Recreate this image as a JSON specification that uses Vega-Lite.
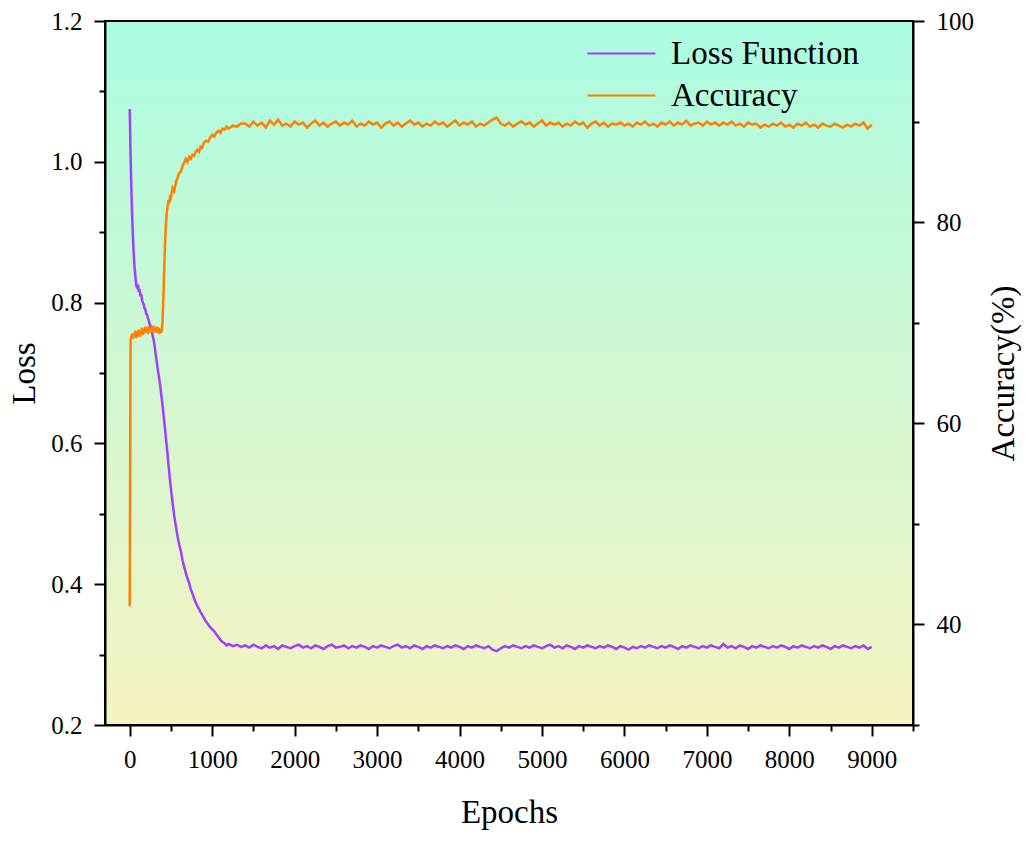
{
  "$schema": "https://vega.github.io/schema/vega-lite/v6.json",
  "width": 808,
  "height": 704,
  "autosize": "none",
  "padding": {"left": 105, "top": 21, "right": 119, "bottom": 116},
  "background": "white",
  "config": {
    "view": {
      "fill": {"gradient": "linear", "x1": 0, "y1": 0, "x2": 0, "y2": 1,
        "stops": [{"offset": 0, "color": "#abfce1"}, {"offset": 1, "color": "#f6f3c2"}]},
      "stroke": "black",
      "strokeWidth": 2
    },
    "axis": {
      "grid": false,
      "labelFont": "Liberation Serif",
      "titleFont": "Liberation Serif",
      "labelFontSize": 25,
      "titleFontSize": 33,
      "titleFontWeight": "normal",
      "labelColor": "black",
      "titleColor": "black",
      "domainColor": "black",
      "domainWidth": 2,
      "tickColor": "black",
      "tickWidth": 2
    }
  },
  "data": {
    "values": [
      {"e": 0, "l": 1.075, "a": 41.8}, {"e": 10, "l": 1.01, "a": 68.3}, {"e": 20, "l": 0.96, "a": 68.6},
      {"e": 30, "l": 0.92, "a": 68.9}, {"e": 40, "l": 0.89, "a": 68.4}, {"e": 50, "l": 0.865, "a": 69.0},
      {"e": 60, "l": 0.848, "a": 68.7}, {"e": 70, "l": 0.835, "a": 69.2}, {"e": 80, "l": 0.824, "a": 68.5},
      {"e": 90, "l": 0.82, "a": 69.1}, {"e": 100, "l": 0.826, "a": 68.8}, {"e": 110, "l": 0.815, "a": 69.3},
      {"e": 120, "l": 0.819, "a": 68.6}, {"e": 130, "l": 0.809, "a": 69.2}, {"e": 140, "l": 0.812, "a": 68.9},
      {"e": 150, "l": 0.803, "a": 69.5}, {"e": 160, "l": 0.8, "a": 68.8}, {"e": 170, "l": 0.797, "a": 69.3},
      {"e": 180, "l": 0.792, "a": 69.0}, {"e": 190, "l": 0.79, "a": 69.6}, {"e": 200, "l": 0.784, "a": 69.1},
      {"e": 210, "l": 0.783, "a": 69.4}, {"e": 220, "l": 0.778, "a": 68.9}, {"e": 230, "l": 0.775, "a": 69.7},
      {"e": 240, "l": 0.77, "a": 69.2}, {"e": 250, "l": 0.768, "a": 69.5}, {"e": 260, "l": 0.762, "a": 69.0},
      {"e": 270, "l": 0.758, "a": 69.6}, {"e": 280, "l": 0.752, "a": 69.2}, {"e": 290, "l": 0.747, "a": 69.7},
      {"e": 300, "l": 0.74, "a": 69.1}, {"e": 310, "l": 0.731, "a": 69.5}, {"e": 320, "l": 0.722, "a": 69.0},
      {"e": 330, "l": 0.714, "a": 69.6}, {"e": 340, "l": 0.705, "a": 69.2}, {"e": 350, "l": 0.698, "a": 69.5},
      {"e": 360, "l": 0.69, "a": 68.9}, {"e": 370, "l": 0.681, "a": 69.4}, {"e": 380, "l": 0.672, "a": 69.0},
      {"e": 390, "l": 0.662, "a": 69.3}, {"e": 400, "l": 0.652, "a": 70.5}, {"e": 410, "l": 0.641, "a": 73.0},
      {"e": 420, "l": 0.63, "a": 75.8}, {"e": 430, "l": 0.618, "a": 78.2}, {"e": 440, "l": 0.606, "a": 80.0},
      {"e": 450, "l": 0.595, "a": 81.0}, {"e": 460, "l": 0.583, "a": 81.6}, {"e": 470, "l": 0.57, "a": 82.2},
      {"e": 480, "l": 0.558, "a": 81.9}, {"e": 490, "l": 0.546, "a": 82.7}, {"e": 500, "l": 0.535, "a": 82.5},
      {"e": 520, "l": 0.515, "a": 83.4}, {"e": 540, "l": 0.497, "a": 83.1}, {"e": 560, "l": 0.482, "a": 84.0},
      {"e": 580, "l": 0.468, "a": 84.4}, {"e": 600, "l": 0.456, "a": 84.9}, {"e": 620, "l": 0.447, "a": 85.0},
      {"e": 640, "l": 0.434, "a": 85.6}, {"e": 660, "l": 0.425, "a": 85.9}, {"e": 680, "l": 0.416, "a": 86.3},
      {"e": 700, "l": 0.408, "a": 86.0}, {"e": 720, "l": 0.402, "a": 86.5}, {"e": 740, "l": 0.393, "a": 86.3},
      {"e": 760, "l": 0.387, "a": 86.7}, {"e": 780, "l": 0.38, "a": 86.6}, {"e": 800, "l": 0.374, "a": 87.0},
      {"e": 820, "l": 0.369, "a": 87.2}, {"e": 840, "l": 0.365, "a": 87.0}, {"e": 860, "l": 0.36, "a": 87.5},
      {"e": 880, "l": 0.356, "a": 87.4}, {"e": 900, "l": 0.352, "a": 87.9}, {"e": 925, "l": 0.347, "a": 88.1},
      {"e": 950, "l": 0.343, "a": 88.0}, {"e": 975, "l": 0.339, "a": 88.4}, {"e": 1000, "l": 0.336, "a": 88.7},
      {"e": 1025, "l": 0.333, "a": 88.5}, {"e": 1050, "l": 0.329, "a": 88.9}, {"e": 1075, "l": 0.325, "a": 89.1},
      {"e": 1100, "l": 0.321, "a": 88.9}, {"e": 1125, "l": 0.318, "a": 89.3}, {"e": 1150, "l": 0.316, "a": 89.2},
      {"e": 1175, "l": 0.313, "a": 89.5}, {"e": 1200, "l": 0.315, "a": 89.3}, {"e": 1250, "l": 0.312, "a": 89.6},
      {"e": 1300, "l": 0.314, "a": 89.5}, {"e": 1350, "l": 0.311, "a": 89.8},
      {"e": 1400, "l": 0.313, "a": 89.8}, {"e": 1450, "l": 0.31, "a": 89.5}, {"e": 1500, "l": 0.314, "a": 90.0},
      {"e": 1550, "l": 0.311, "a": 89.6}, {"e": 1600, "l": 0.309, "a": 89.9}, {"e": 1650, "l": 0.313, "a": 89.4},
      {"e": 1700, "l": 0.31, "a": 90.1}, {"e": 1750, "l": 0.312, "a": 89.7}, {"e": 1800, "l": 0.308, "a": 90.2},
      {"e": 1850, "l": 0.313, "a": 89.6}, {"e": 1900, "l": 0.311, "a": 89.8}, {"e": 1950, "l": 0.309, "a": 89.5},
      {"e": 2000, "l": 0.312, "a": 90.0}, {"e": 2050, "l": 0.314, "a": 89.7}, {"e": 2100, "l": 0.31, "a": 89.9},
      {"e": 2150, "l": 0.312, "a": 89.4}, {"e": 2200, "l": 0.309, "a": 89.8}, {"e": 2250, "l": 0.313, "a": 90.1},
      {"e": 2300, "l": 0.311, "a": 89.6}, {"e": 2350, "l": 0.308, "a": 89.9}, {"e": 2400, "l": 0.312, "a": 89.5},
      {"e": 2450, "l": 0.314, "a": 89.8}, {"e": 2500, "l": 0.31, "a": 90.0}, {"e": 2550, "l": 0.311, "a": 89.6},
      {"e": 2600, "l": 0.313, "a": 89.9}, {"e": 2650, "l": 0.309, "a": 89.7}, {"e": 2700, "l": 0.312, "a": 90.1},
      {"e": 2750, "l": 0.31, "a": 89.5}, {"e": 2800, "l": 0.313, "a": 89.8}, {"e": 2850, "l": 0.311, "a": 89.6},
      {"e": 2900, "l": 0.308, "a": 90.0}, {"e": 2950, "l": 0.312, "a": 89.7}, {"e": 3000, "l": 0.31, "a": 89.9},
      {"e": 3050, "l": 0.313, "a": 89.4}, {"e": 3100, "l": 0.311, "a": 89.8}, {"e": 3150, "l": 0.309, "a": 90.0},
      {"e": 3200, "l": 0.312, "a": 89.6}, {"e": 3250, "l": 0.314, "a": 89.9}, {"e": 3300, "l": 0.31, "a": 89.5},
      {"e": 3350, "l": 0.312, "a": 89.8}, {"e": 3400, "l": 0.309, "a": 90.1}, {"e": 3450, "l": 0.313, "a": 89.7},
      {"e": 3500, "l": 0.311, "a": 89.9}, {"e": 3550, "l": 0.308, "a": 89.5}, {"e": 3600, "l": 0.312, "a": 89.8},
      {"e": 3650, "l": 0.31, "a": 89.6}, {"e": 3700, "l": 0.313, "a": 90.0}, {"e": 3750, "l": 0.311, "a": 89.7},
      {"e": 3800, "l": 0.309, "a": 89.9}, {"e": 3850, "l": 0.312, "a": 89.5}, {"e": 3900, "l": 0.31, "a": 89.8},
      {"e": 3950, "l": 0.313, "a": 90.1}, {"e": 4000, "l": 0.311, "a": 89.6}, {"e": 4050, "l": 0.308, "a": 89.9},
      {"e": 4100, "l": 0.312, "a": 89.7}, {"e": 4150, "l": 0.31, "a": 90.0}, {"e": 4200, "l": 0.313, "a": 89.5},
      {"e": 4250, "l": 0.311, "a": 89.8}, {"e": 4300, "l": 0.309, "a": 89.6}, {"e": 4350, "l": 0.312, "a": 89.9},
      {"e": 4400, "l": 0.307, "a": 90.2}, {"e": 4450, "l": 0.305, "a": 90.4}, {"e": 4500, "l": 0.309, "a": 89.8},
      {"e": 4550, "l": 0.312, "a": 89.6}, {"e": 4600, "l": 0.31, "a": 89.9}, {"e": 4650, "l": 0.313, "a": 89.5},
      {"e": 4700, "l": 0.311, "a": 89.8}, {"e": 4750, "l": 0.309, "a": 90.0}, {"e": 4800, "l": 0.312, "a": 89.7},
      {"e": 4850, "l": 0.31, "a": 89.9}, {"e": 4900, "l": 0.313, "a": 89.5}, {"e": 4950, "l": 0.311, "a": 89.8},
      {"e": 5000, "l": 0.309, "a": 90.1}, {"e": 5050, "l": 0.312, "a": 89.6}, {"e": 5100, "l": 0.314, "a": 89.9},
      {"e": 5150, "l": 0.31, "a": 89.7}, {"e": 5200, "l": 0.312, "a": 89.9}, {"e": 5250, "l": 0.309, "a": 89.5},
      {"e": 5300, "l": 0.313, "a": 89.8}, {"e": 5350, "l": 0.311, "a": 89.6}, {"e": 5400, "l": 0.308, "a": 90.0},
      {"e": 5450, "l": 0.312, "a": 89.7}, {"e": 5500, "l": 0.31, "a": 89.9}, {"e": 5550, "l": 0.313, "a": 89.4},
      {"e": 5600, "l": 0.311, "a": 89.8}, {"e": 5650, "l": 0.309, "a": 90.0}, {"e": 5700, "l": 0.312, "a": 89.6},
      {"e": 5750, "l": 0.31, "a": 89.9}, {"e": 5800, "l": 0.313, "a": 89.5}, {"e": 5850, "l": 0.311, "a": 89.8},
      {"e": 5900, "l": 0.308, "a": 89.7}, {"e": 5950, "l": 0.312, "a": 89.9}, {"e": 6000, "l": 0.31, "a": 89.6},
      {"e": 6050, "l": 0.307, "a": 89.8}, {"e": 6100, "l": 0.311, "a": 89.5}, {"e": 6150, "l": 0.309, "a": 89.9},
      {"e": 6200, "l": 0.312, "a": 89.7}, {"e": 6250, "l": 0.31, "a": 90.0}, {"e": 6300, "l": 0.313, "a": 89.6},
      {"e": 6350, "l": 0.311, "a": 89.8}, {"e": 6400, "l": 0.309, "a": 89.5}, {"e": 6450, "l": 0.312, "a": 89.9},
      {"e": 6500, "l": 0.31, "a": 89.7}, {"e": 6550, "l": 0.313, "a": 90.0}, {"e": 6600, "l": 0.311, "a": 89.6},
      {"e": 6650, "l": 0.308, "a": 89.9}, {"e": 6700, "l": 0.312, "a": 89.7}, {"e": 6750, "l": 0.31, "a": 90.1},
      {"e": 6800, "l": 0.313, "a": 89.6}, {"e": 6850, "l": 0.311, "a": 89.8}, {"e": 6900, "l": 0.309, "a": 89.9},
      {"e": 6950, "l": 0.312, "a": 89.6}, {"e": 7000, "l": 0.31, "a": 90.0}, {"e": 7050, "l": 0.313, "a": 89.7},
      {"e": 7100, "l": 0.311, "a": 89.9}, {"e": 7150, "l": 0.309, "a": 89.6}, {"e": 7200, "l": 0.315, "a": 89.9},
      {"e": 7250, "l": 0.31, "a": 89.7}, {"e": 7300, "l": 0.312, "a": 90.0}, {"e": 7350, "l": 0.309, "a": 89.6},
      {"e": 7400, "l": 0.313, "a": 89.8}, {"e": 7450, "l": 0.311, "a": 89.5}, {"e": 7500, "l": 0.308, "a": 89.9},
      {"e": 7550, "l": 0.312, "a": 89.7}, {"e": 7600, "l": 0.31, "a": 89.8}, {"e": 7650, "l": 0.313, "a": 89.4},
      {"e": 7700, "l": 0.311, "a": 89.7}, {"e": 7750, "l": 0.309, "a": 89.5}, {"e": 7800, "l": 0.312, "a": 89.8},
      {"e": 7850, "l": 0.31, "a": 89.6}, {"e": 7900, "l": 0.313, "a": 89.9}, {"e": 7950, "l": 0.311, "a": 89.5},
      {"e": 8000, "l": 0.308, "a": 89.7}, {"e": 8050, "l": 0.312, "a": 89.4}, {"e": 8100, "l": 0.31, "a": 89.8},
      {"e": 8150, "l": 0.313, "a": 89.6}, {"e": 8200, "l": 0.311, "a": 89.9}, {"e": 8250, "l": 0.309, "a": 89.5},
      {"e": 8300, "l": 0.312, "a": 89.7}, {"e": 8350, "l": 0.31, "a": 89.4}, {"e": 8400, "l": 0.313, "a": 89.8},
      {"e": 8450, "l": 0.311, "a": 89.6}, {"e": 8500, "l": 0.308, "a": 89.5}, {"e": 8550, "l": 0.312, "a": 89.8},
      {"e": 8600, "l": 0.31, "a": 89.6}, {"e": 8650, "l": 0.313, "a": 89.4}, {"e": 8700, "l": 0.311, "a": 89.7},
      {"e": 8750, "l": 0.309, "a": 89.5}, {"e": 8800, "l": 0.312, "a": 89.8}, {"e": 8850, "l": 0.31, "a": 89.6},
      {"e": 8900, "l": 0.313, "a": 89.9}, {"e": 8950, "l": 0.308, "a": 89.3}, {"e": 9000, "l": 0.311, "a": 89.7}
    ]
  },
  "encoding": {
    "x": {
      "field": "e",
      "type": "quantitative",
      "scale": {"domain": [-300, 9500], "nice": false, "zero": false},
      "axis": {
        "title": "Epochs",
        "values": [0, 500, 1000, 1500, 2000, 2500, 3000, 3500, 4000, 4500, 5000, 5500, 6000, 6500, 7000, 7500, 8000, 8500, 9000, 9500],
        "labelExpr": "datum.value % 1000 == 0 ? format(datum.value, 'd') : ''",
        "tickSize": {"condition": {"test": "datum.value % 1000 == 0", "value": 11}, "value": 6},
        "labelPadding": 11,
        "titlePadding": 24
      }
    }
  },
  "layer": [
    {
      "mark": {"type": "line", "strokeWidth": 2.5},
      "encoding": {
        "y": {
          "field": "l",
          "type": "quantitative",
          "scale": {"domain": [0.2, 1.2], "nice": false, "zero": false},
          "axis": {
            "title": "Loss",
            "values": [0.2, 0.3, 0.4, 0.5, 0.6, 0.7, 0.8, 0.9, 1.0, 1.1, 1.2],
            "labelExpr": "round(datum.value * 10) % 2 == 0 ? format(datum.value, '.1f') : ''",
            "tickSize": {"condition": {"test": "round(datum.value * 10) % 2 == 0", "value": 11}, "value": 6},
            "labelPadding": 12,
            "titlePadding": 9
          }
        },
        "color": {
          "datum": "Loss Function",
          "scale": {"domain": ["Loss Function", "Accuracy"], "range": ["#9f40ff", "#ff8000"]},
          "legend": {
            "title": null,
            "orient": "none",
            "legendX": 500,
            "legendY": 16,
            "symbolType": "M-3,0H3",
            "symbolSize": 514,
            "symbolStrokeWidth": 2,
            "labelFont": "Liberation Serif",
            "labelFontSize": 33,
            "labelColor": "black",
            "labelLimit": 0,
            "labelOffset": 33,
            "rowPadding": 8
          }
        }
      }
    },
    {
      "mark": {"type": "line", "strokeWidth": 2.5},
      "encoding": {
        "y": {
          "field": "a",
          "type": "quantitative",
          "scale": {"domain": [30, 100], "nice": false, "zero": false},
          "axis": {
            "orient": "right",
            "title": "Accuracy(%)",
            "values": [30, 40, 50, 60, 70, 80, 90, 100],
            "labelExpr": "datum.value % 20 == 0 ? format(datum.value, 'd') : ''",
            "tickSize": {"condition": {"test": "datum.value % 20 == 0", "value": 11}, "value": 6},
            "labelPadding": 12,
            "titleAngle": 270,
            "titleBaseline": "top",
            "titlePadding": 14
          }
        },
        "color": {"datum": "Accuracy"}
      }
    }
  ],
  "resolve": {"scale": {"y": "independent"}}
}
